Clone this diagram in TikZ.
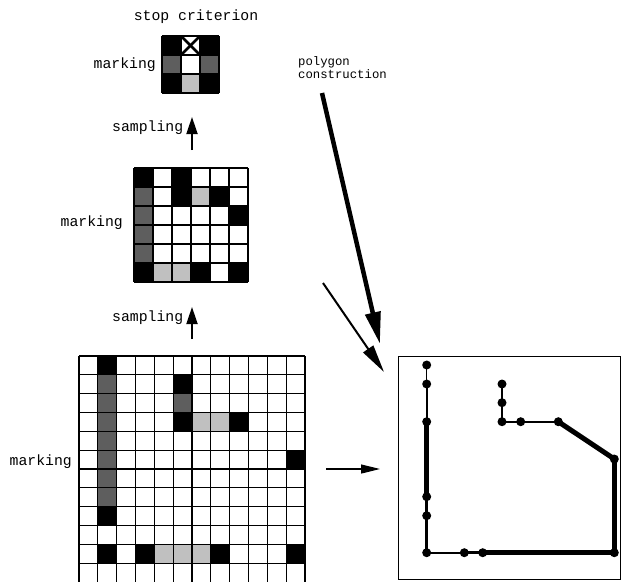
\documentclass[tikz,border=0pt]{standalone}
\usepackage{fontspec}
\newfontfamily\cour{Liberation Mono}
\usetikzlibrary{arrows.meta}
\definecolor{dk}{HTML}{5E5E5E}
\definecolor{lt}{HTML}{C0C0C0}
\begin{document}
\begin{tikzpicture}[x=1pt,y=-1pt,
  lbl/.style={font=\cour\fontsize{14.8}{16}\selectfont, inner sep=0pt},
  slbl/.style={font=\cour\fontsize{12.3}{13}\selectfont, inner sep=0pt, align=left},
  gridline/.style={line width=1.1pt, black},
  dot/.style={circle, fill=black, inner sep=0pt, minimum size=9pt},
  samparrow/.style={line width=1.8pt, -{Triangle[length=17pt,width=11pt]}},
  bigarrow/.style={line width=4.5pt, -{Triangle[length=32pt,width=15pt]}},
  midarrow/.style={line width=2pt, -{Triangle[length=28pt,width=12pt]}},
  harrow/.style={line width=1.2pt, -{Triangle[length=19pt,width=9pt]}}]
\useasboundingbox (0,0) rectangle (621,582);

% ---------- top grid (3x3) ----------
\begin{scope}[xshift=162pt, yshift=-36pt, x=19pt, y=-19pt]
  \fill[black] (0,0) rectangle (1,1);
  \fill[black] (2,0) rectangle (3,1);
  \fill[dk] (0,1) rectangle (1,2);
  \fill[dk] (2,1) rectangle (3,2);
  \fill[black] (0,2) rectangle (1,3);
  \fill[lt] (1,2) rectangle (2,3);
  \fill[black] (2,2) rectangle (3,3);
  \foreach \i in {0,...,3} {
    \draw[gridline] (\i,0) -- (\i,3);
    \draw[gridline] (0,\i) -- (3,\i);
  }
  \draw[line width=2.5pt] (1,0) -- (2,1);
  \draw[line width=2.5pt] (2,0) -- (1,1);
\end{scope}

% ---------- middle grid (6x6) ----------
\begin{scope}[xshift=134pt, yshift=-168pt, x=19pt, y=-19pt]
  \foreach \c/\r in {0/0,2/0,2/1,4/1,5/2,0/5,3/5,5/5}
    \fill[black] (\c,\r) rectangle ++(1,1);
  \foreach \c/\r in {0/1,0/2,0/3,0/4}
    \fill[dk] (\c,\r) rectangle ++(1,1);
  \foreach \c/\r in {3/1,1/5,2/5}
    \fill[lt] (\c,\r) rectangle ++(1,1);
  \foreach \i in {0,...,6} {
    \draw[gridline] (\i,0) -- (\i,6);
    \draw[gridline] (0,\i) -- (6,\i);
  }
\end{scope}

% ---------- bottom grid (12x12, cut at the bottom) ----------
\begin{scope}[xshift=79pt, yshift=-356pt, x=18.83pt, y=-18.83pt]
  \foreach \c/\r in {1/0,5/1,5/3,8/3,11/5,1/8,1/10,3/10,7/10,11/10}
    \fill[black] (\c,\r) rectangle ++(1,1);
  \foreach \c/\r in {1/1,1/2,1/3,1/4,1/5,1/6,1/7,5/2}
    \fill[dk] (\c,\r) rectangle ++(1,1);
  \foreach \c/\r in {6/3,7/3,4/10,5/10,6/10}
    \fill[lt] (\c,\r) rectangle ++(1,1);
  \foreach \i in {0,...,12}
    \draw[gridline] (\i,0) -- (\i,12);
  \foreach \i in {0,...,11}
    \draw[gridline] (0,\i) -- (12,\i);
\end{scope}

% ---------- labels ----------
\node[lbl] (stop) at (196,17) {stop criterion};
\node[lbl, anchor=east] (mark1) at (156,65) {marking};
\node[lbl, anchor=east] (mark2) at (123,223) {marking};
\node[lbl, anchor=east] (mark3) at (72,462) {marking};
\node[lbl, anchor=west] (samp1) at (112,128) {sampling};
\node[lbl, anchor=west] (samp2) at (112,318) {sampling};
\node[slbl, anchor=north west] (poly) at (298,56) {polygon\\construction};

% ---------- arrows ----------
\coordinate (s1a) at (192,150);
\coordinate (s1b) at (192,117);
\coordinate (s2a) at (192,339);
\coordinate (s2b) at (192,307);
\draw[samparrow] (s1a) -- (s1b);
\draw[samparrow] (s2a) -- (s2b);

\coordinate (ba) at (322,93);
\coordinate (bb) at (380,344);
\draw[bigarrow] (ba) -- (bb);

\coordinate (ma) at (323,283);
\coordinate (mb) at (384,372);
\draw[midarrow] (ma) -- (mb);

\coordinate (ha) at (326,469);
\coordinate (hb) at (380,469);
\draw[harrow] (ha) -- (hb);

% ---------- polygon panel ----------
\draw[line width=1pt] (398,356) rectangle (620,579);

\node[dot] (a1) at (426.7,365) {};
\node[dot] (a2) at (426.7,384) {};
\node[dot] (a3) at (426.7,421.7) {};
\node[dot] (a4) at (426.7,496.7) {};
\node[dot] (a5) at (426.7,515.7) {};
\node[dot] (a6) at (426.7,552.7) {};
\node[dot] (b1) at (464.3,552.7) {};
\node[dot] (b2) at (482.7,552.7) {};
\node[dot] (b3) at (614.3,552.7) {};
\node[dot] (c1) at (614.3,459) {};
\node[dot] (d1) at (558.3,421.7) {};
\node[dot] (d2) at (520.7,421.7) {};
\node[dot] (d3) at (502,421.7) {};
\node[dot] (d4) at (502,402.7) {};
\node[dot] (d5) at (502,384) {};

\draw[line width=1.2pt] (a1.center) -- (a2.center);
\draw[line width=2.2pt] (a2.center) -- (a3.center);
\draw[line width=5pt] (a3.center) -- (a4.center);
\draw[line width=3.5pt] (a4.center) -- (a5.center);
\draw[line width=3pt] (a5.center) -- (a6.center);
\draw[line width=1.8pt] (a6.center) -- (b1.center);
\draw[line width=3pt] (b1.center) -- (b2.center);
\draw[line width=5pt] (b2.center) -- (b3.center);
\draw[line width=5pt] (b3.center) -- (c1.center);
\draw[line width=5pt] (c1.center) -- (d1.center);
\draw[line width=2.2pt] (d1.center) -- (d2.center);
\draw[line width=2.2pt] (d2.center) -- (d3.center);
\draw[line width=1.2pt] (d3.center) -- (d4.center);
\draw[line width=1.2pt] (d4.center) -- (d5.center);
\end{tikzpicture}
\end{document}
